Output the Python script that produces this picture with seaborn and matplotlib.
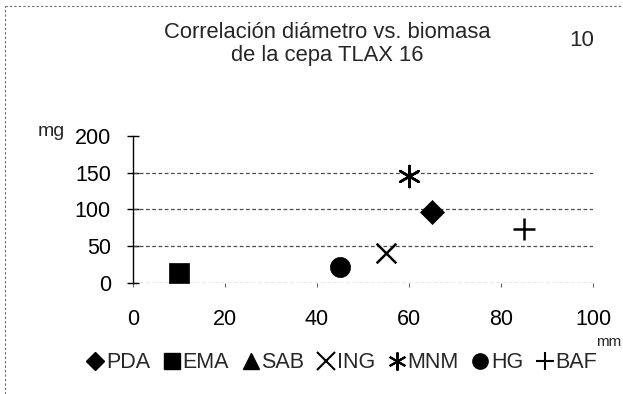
import numpy as np
import pandas as pd
import matplotlib
matplotlib.use("Agg")
import matplotlib.pyplot as plt
from matplotlib.lines import Line2D
import seaborn as sns

# ---- data ----
medios = ["PDA", "EMA", "SAB", "ING", "MNM", "HG", "BAF"]
diametro_mm = [65, 10, np.nan, 55, 60, 45, 85]
biomasa_mg = [96, 14, np.nan, 41, 146, 22, 73]
x_ticks = [0, 20, 40, 60, 80, 100]
y_ticks = [0, 50, 100, 150, 200]
title_lines = ["Correlación diámetro vs. biomasa", "de la cepa TLAX 16"]

sns.set_style("white")
plt.rcParams["font.family"] = ["Liberation Sans", "DejaVu Sans"]

W, H = 623, 394
fig = plt.figure(figsize=(W / 100, H / 100), dpi=100)
ax = fig.add_axes([133 / W, 1 - 283 / H, (593 - 133) / W, (283 - 136) / H])

df = pd.DataFrame({"medio": medios, "diam": diametro_mm, "bio": biomasa_mg})

marker_map = {"PDA": "D", "EMA": "s", "SAB": "^", "ING": "x",
              "MNM": (6, 2, 0), "HG": "o", "BAF": "+"}
size_map = {"PDA": 150, "EMA": 190, "SAB": 150, "ING": 200,
            "MNM": 230, "HG": 210, "BAF": 230}
for m in medios:
    sub = df[df["medio"] == m].dropna()
    if sub.empty:
        continue
    mk = marker_map[m]
    filled = m in ("PDA", "EMA", "SAB", "HG")
    if filled:
        sns.scatterplot(data=sub, x="diam", y="bio", marker=mk, s=size_map[m],
                        color="black", edgecolor="black", linewidth=0.5,
                        ax=ax, legend=False, zorder=5)
    else:
        sns.scatterplot(data=sub, x="diam", y="bio", marker=mk, s=size_map[m],
                        color="black", linewidth=1.8, ax=ax, legend=False,
                        zorder=5)

ax.set_xlim(0, 100)
ax.set_ylim(0, 200)
ax.set_xticks(x_ticks)
ax.set_yticks(y_ticks)
ax.set_xlabel("")
ax.set_ylabel("")
for s in ["top", "right", "bottom"]:
    ax.spines[s].set_visible(False)
ax.spines["left"].set_color("black")
ax.spines["left"].set_linewidth(1.0)

for yv in y_ticks[:-1]:
    ax.axhline(yv, color="0.3", linestyle=(0, (3, 2)), linewidth=0.9, zorder=1)

ax.tick_params(axis="y", direction="inout", length=8, width=1, colors="black",
               labelsize=15.5, pad=12, left=True)
ax.tick_params(axis="x", direction="out", length=3, width=0.8, color="0.4",
               labelcolor="black", labelsize=15.5, pad=16, bottom=True)

# texts
fig.text(327 / W, 1 - 33 / H, title_lines[0], ha="center", va="center", fontsize=15.8)
fig.text(327 / W, 1 - 56 / H, title_lines[1], ha="center", va="center", fontsize=15.8)
fig.text(582 / W, 1 - 40 / H, "10", ha="center", va="center", fontsize=16)
fig.text(51 / W, 1 - 131 / H, "mg", ha="center", va="center", fontsize=14)
fig.text(621 / W, 1 - 342 / H, "mm", ha="right", va="center", fontsize=11)

# legend
handles = []
for m in medios:
    mk = marker_map[m]
    filled = m in ("PDA", "EMA", "SAB", "HG")
    if filled:
        h = Line2D([], [], linestyle="none", marker=mk, color="black",
                   markersize=11 if m != "PDA" else 9)
    else:
        h = Line2D([], [], linestyle="none", marker=mk, color="black",
                   markersize=13, markeredgewidth=1.5)
    handles.append(h)
fig.legend(handles, medios, loc="center", bbox_to_anchor=(342 / W, 1 - 363 / H),
           ncol=7, frameon=False, fontsize=15.5, handlelength=0.8,
           handletextpad=0.1, columnspacing=0.6, borderaxespad=0)

# dotted page border
fig.add_artist(Line2D([5 / W, 1], [1 - 6 / H, 1 - 6 / H], transform=fig.transFigure,
                      color="0.4", linestyle=(0, (2, 2)), linewidth=0.8))
fig.add_artist(Line2D([5 / W, 5 / W], [0, 1 - 6 / H], transform=fig.transFigure,
                      color="0.4", linestyle=(0, (2, 2)), linewidth=0.8))

fig.savefig("out.png", dpi=100)
